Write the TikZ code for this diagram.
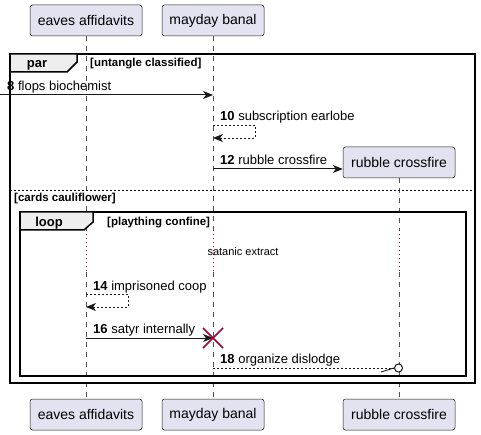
\documentclass[tikz,border=0pt]{standalone}
\usepackage{fontspec}
\setmainfont{Liberation Sans}
\usetikzlibrary{arrows.meta,positioning,calc}
\definecolor{umlBox}{HTML}{E2E2F0}
\definecolor{umlInk}{HTML}{181818}
\definecolor{umlTab}{HTML}{EEEEEE}
\definecolor{umlRed}{HTML}{A80036}
\begin{document}
\begin{tikzpicture}[x=1pt,y=-1pt,>={Stealth[length=10pt,width=8pt,inset=3pt]},
  part/.style={draw=umlInk,fill=umlBox,rounded corners=2.5pt,line width=0.5pt,minimum height=31pt,inner sep=0pt,font=\fontsize{14}{16}\selectfont},
  life/.style={draw=umlInk!75,line width=0.5pt,dash pattern=on 5pt off 5pt},
  delayline/.style={draw=umlRed,line width=0.6pt,dash pattern=on 1pt off 3pt},
  msg/.style={draw=umlInk,line width=1pt,->},
  reply/.style={draw=umlInk,line width=0.9pt,dash pattern=on 2pt off 2pt},
  lab/.style={anchor=base west,inner sep=0pt,font=\fontsize{13}{15}\selectfont},
  frame/.style={draw=black,line width=1.5pt},
  tab/.style={draw=black,fill=umlTab,line width=1.5pt},
  kind/.style={anchor=base,inner sep=0pt,font=\bfseries\fontsize{13}{15}\selectfont},
  guard/.style={anchor=base west,inner sep=0pt,font=\bfseries\fontsize{11.5}{13}\selectfont}
]
  \useasboundingbox (0,0) rectangle (481,435);

  % participants
  \node[part,minimum width=112pt] (eavesT) at (86,20.5) {eaves affidavits};
  \node[part,minimum width=102pt] (maydayT) at (213,20.5) {mayday banal};
  \node[part,minimum width=112pt] (rubbleT) at (399,162.5) {rubble crossfire};
  \node[part,minimum width=112pt] (eavesB) at (86,414.5) {eaves affidavits};
  \node[part,minimum width=102pt] (maydayB) at (213,414.5) {mayday banal};
  \node[part,minimum width=112pt] (rubbleB) at (399,414.5) {rubble crossfire};

  % lifelines, dotted during the delay
  \foreach \p/\x in {eaves/86,mayday/213,rubble/399} {
    \coordinate (\p D1) at (\x,230);
    \coordinate (\p D2) at (\x,272);
    \draw[delayline] (\p D1) -- (\p D2);
    \draw[life] (\p D2) -- (\p B.north);
  }
  \draw[life] (eavesT.south) -- (eavesD1);
  \draw[life] (maydayT.south) -- (maydayD1);
  \draw[life] (rubbleT.south) -- (rubbleD1);

  % par frame
  \draw[frame] (10,54) rectangle (475,383);
  \draw[tab] (10,54) -- (77,54) -- (77,62) -- (67,72) -- (10,72) -- cycle;
  \node[kind] (parK) at (37,68) {par};
  \node[guard] (parG) at (90,67) {[untangle classified]};
  \draw[draw=black,line width=0.8pt,dash pattern=on 2pt off 2pt] (10,190) -- (475,190);
  \node[guard] (elseG) at (14,201.5) {[cards cauliflower]};

  % messages of the first part
  \coordinate (found8) at (0,95);
  \coordinate (may8) at (213,95);
  \draw[msg] (found8) -- (may8);
  \node[lab] (lab8) at (7,91) {\textbf{8} flops biochemist};

  \coordinate (may10a) at (213,125);
  \coordinate (may10b) at (213,138);
  \draw[reply,->] (may10a) -- ++(42,0) -- ++(0,13) -- (may10b);
  \node[lab] (lab10) at (220,120.5) {\textbf{10} subscription earlobe};

  \coordinate (may12) at (213,169);
  \draw[msg] (may12) -- (may12 -| rubbleT.west);
  \node[lab] (lab12) at (220,164.5) {\textbf{12} rubble crossfire};

  % loop frame
  \draw[frame] (20,212) rectangle (466,376);
  \draw[tab] (20,212) -- (93,212) -- (93,222) -- (84,230) -- (20,230) -- cycle;
  \node[kind] (loopK) at (49,226.5) {loop};
  \node[guard] (loopG) at (107,226) {[plaything confine]};

  \node[anchor=base,inner sep=0pt,font=\fontsize{11}{13}\selectfont] (delay) at (243,255.5) {satanic extract};

  \coordinate (eav14a) at (86,294);
  \coordinate (eav14b) at (86,307);
  \draw[reply,->] (eav14a) -- ++(42,0) -- ++(0,13) -- (eav14b);
  \node[lab] (lab14) at (93,290) {\textbf{14} imprisoned coop};

  \coordinate (eav16) at (86,338);
  \coordinate (may16) at (213,338);
  \draw[msg] (eav16) -- (may16);
  \node[lab] (lab16) at (93,333.5) {\textbf{16} satyr internally};
  \draw[draw=umlRed,line width=1.5pt] ($(may16)+(-10,-10)$) -- ($(may16)+(10,10)$)
    ($(may16)+(-10,10)$) -- ($(may16)+(10,-10)$);

  \coordinate (may18) at (213,368);
  \node[circle,draw=umlInk,fill=white,line width=1pt,minimum size=8pt,inner sep=0pt] (sink18) at (398.5,368) {};
  \draw[reply] (may18) -- (sink18.west);
  \draw[draw=umlInk,line width=0.9pt] (sink18.west) -- ++(-13,4);
  \node[lab] (lab18) at (220,363.5) {\textbf{18} organize dislodge};
\end{tikzpicture}
\end{document}
